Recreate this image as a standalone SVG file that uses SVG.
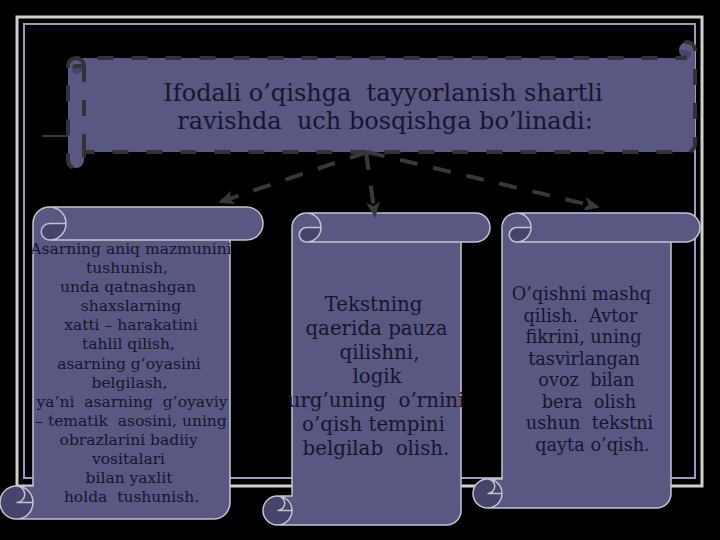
<svg xmlns="http://www.w3.org/2000/svg" width="720" height="540" viewBox="0 0 720 540">
<defs>
<style>
.bg{fill:#000}
.fill{fill:#585882}
.dark{fill:#45456c}
.edge{fill:none;stroke:#c4c4d0;stroke-width:1.5}
.dedge{fill:none;stroke:#333333;stroke-width:4;stroke-dasharray:16 18}
.t{font-family:"DejaVu Serif","Liberation Serif",serif;fill:#161630;text-anchor:middle;white-space:pre}
.conn{fill:none;stroke:#383838;stroke-width:4;stroke-dasharray:18 16}
</style>
<marker id="arr" markerUnits="userSpaceOnUse" markerWidth="16" markerHeight="14" viewBox="0 0 16 14" refX="14" refY="7" orient="auto">
<path d="M0,0 L16,7 L0,14 L4,7 Z" fill="#383838"/>
</marker>
</defs>
<rect class="bg" x="0" y="0" width="720" height="540"/>
<g id="frame">
<rect x="17" y="17" width="685" height="469" fill="none" stroke="#cfcfcf" stroke-width="3"/>
<rect x="24" y="24" width="671" height="454" fill="none" stroke="#9a9ac0" stroke-width="2"/>
<line x1="42" y1="136" x2="68" y2="136" stroke="#4a4a4a" stroke-width="1.5"/>
</g>
<g id="title">
<path class="fill" d="M68,66 A8,8 0 0 1 76,58 L687,58 A8,8 0 1 1 695,50 L695,144 A8,8 0 0 1 687,152 L84,152 L84,160 A8,8 0 0 1 68,160 Z"/>
<path class="dark" d="M76,74 A4,4 0 0 1 76,66 L84,66 A8,8 0 0 1 76,74 Z"/>
<path class="dark" d="M687,58 A4,4 0 0 0 687,50 L679,50 A8,8 0 0 0 687,58 Z"/>
<path class="dedge" d="M68,66 A8,8 0 0 1 76,58 L687,58 A8,8 0 1 1 695,50 L695,144 A8,8 0 0 1 687,152 L84,152 L84,160 A8,8 0 0 1 68,160 Z"/>
<path class="dedge" d="M76,58 A8,8 0 0 1 76,74 A4,4 0 0 1 76,66 L84,66 M84,66 L84,152"/>
<text class="t" x="383" y="101" font-size="24" xml:space="preserve">Ifodali o’qishga  tayyorlanish shartli</text>
<text class="t" x="385" y="129" font-size="24" xml:space="preserve">ravishda  uch bosqishga bo’linadi:</text>
</g>
<g id="step1">
<path class="fill" d="M33,486 L33,223.5 A16.5,16.5 0 0 1 49.5,207 L246.5,207 A16.5,16.5 0 0 1 246.5,240 L230,240 L230,502.5 A16.5,16.5 0 0 1 213.5,519 L16.5,519 A16.5,16.5 0 0 1 16.5,486 Z"/>
<path class="dark" d="M49.5,240 A8.25,8.25 0 0 1 49.5,223.5 L66,223.5 A16.5,16.5 0 0 1 49.5,240 Z"/>
<circle class="dark" cx="16.5" cy="502.5" r="16.5"/>
<path class="edge" d="M33,486 L33,223.5 A16.5,16.5 0 0 1 49.5,207 L246.5,207 A16.5,16.5 0 0 1 246.5,240 L230,240 L230,502.5 A16.5,16.5 0 0 1 213.5,519 L16.5,519 A16.5,16.5 0 0 1 16.5,486 Z M49.5,207 A16.5,16.5 0 0 1 49.5,240 A8.25,8.25 0 0 1 49.5,223.5 L66,223.5 M230,240 L49.5,240 M16.5,486 A8.25,8.25 0 0 1 16.5,502.5 L33,502.5 M16.5,519 A16.5,16.5 0 0 0 16.5,486"/>
<text class="t" font-size="15.5" xml:space="preserve" x="131" y="254">Asarning aniq mazmunini</text>
<text class="t" font-size="15.5" xml:space="preserve" x="127" y="273">tushunish,</text>
<text class="t" font-size="15.5" xml:space="preserve" x="128" y="292">unda qatnashgan</text>
<text class="t" font-size="15.5" xml:space="preserve" x="131" y="311">shaxslarning</text>
<text class="t" font-size="15.5" xml:space="preserve" x="131" y="330">xatti – harakatini</text>
<text class="t" font-size="15.5" xml:space="preserve" x="128.5" y="349">tahlil qilish,</text>
<text class="t" font-size="15.5" xml:space="preserve" x="129" y="369">asarning g’oyasini</text>
<text class="t" font-size="15.5" xml:space="preserve" x="129.5" y="388">belgilash,</text>
<text class="t" font-size="15.5" xml:space="preserve" x="132" y="407">ya’ni  asarning  g’oyaviy</text>
<text class="t" font-size="15.5" xml:space="preserve" x="131" y="426">– tematik  asosini, uning</text>
<text class="t" font-size="15.5" xml:space="preserve" x="128.7" y="445">obrazlarini badiiy</text>
<text class="t" font-size="15.5" xml:space="preserve" x="128.5" y="464">vositalari</text>
<text class="t" font-size="15.5" xml:space="preserve" x="129" y="483">bilan yaxlit</text>
<text class="t" font-size="15.5" xml:space="preserve" x="131.5" y="502">holda  tushunish.</text>
</g>
<g id="step2">
<path class="fill" d="M292,496 L292,227.5 A14.5,14.5 0 0 1 306.5,213 L475.5,213 A14.5,14.5 0 0 1 475.5,242 L461,242 L461,510.5 A14.5,14.5 0 0 1 446.5,525 L277.5,525 A14.5,14.5 0 0 1 277.5,496 Z"/>
<path class="dark" d="M306.5,242 A7.25,7.25 0 0 1 306.5,227.5 L321,227.5 A14.5,14.5 0 0 1 306.5,242 Z"/>
<circle class="dark" cx="277.5" cy="510.5" r="14.5"/>
<path class="edge" d="M292,496 L292,227.5 A14.5,14.5 0 0 1 306.5,213 L475.5,213 A14.5,14.5 0 0 1 475.5,242 L461,242 L461,510.5 A14.5,14.5 0 0 1 446.5,525 L277.5,525 A14.5,14.5 0 0 1 277.5,496 Z M306.5,213 A14.5,14.5 0 0 1 306.5,242 A7.25,7.25 0 0 1 306.5,227.5 L321,227.5 M461,242 L306.5,242 M277.5,496 A7.25,7.25 0 0 1 277.5,510.5 L292,510.5 M277.5,525 A14.5,14.5 0 0 0 277.5,496"/>
<text class="t" font-size="19.8" xml:space="preserve" x="373.5" y="311">Tekstning</text>
<text class="t" font-size="19.8" xml:space="preserve" x="376.5" y="335">qaerida pauza</text>
<text class="t" font-size="19.8" xml:space="preserve" x="379.5" y="359">qilishni,</text>
<text class="t" font-size="19.8" xml:space="preserve" x="377" y="383">logik</text>
<text class="t" font-size="19.8" xml:space="preserve" x="376" y="407">urg’uning  o’rnini</text>
<text class="t" font-size="19.8" xml:space="preserve" x="373.5" y="431">o’qish tempini</text>
<text class="t" font-size="19.8" xml:space="preserve" x="376" y="455">belgilab  olish.</text>
</g>
<g id="step3">
<path class="fill" d="M502,479 L502,227.5 A14.5,14.5 0 0 1 516.5,213 L685.5,213 A14.5,14.5 0 0 1 685.5,242 L671,242 L671,493.5 A14.5,14.5 0 0 1 656.5,508 L487.5,508 A14.5,14.5 0 0 1 487.5,479 Z"/>
<path class="dark" d="M516.5,242 A7.25,7.25 0 0 1 516.5,227.5 L531,227.5 A14.5,14.5 0 0 1 516.5,242 Z"/>
<circle class="dark" cx="487.5" cy="493.5" r="14.5"/>
<path class="edge" d="M502,479 L502,227.5 A14.5,14.5 0 0 1 516.5,213 L685.5,213 A14.5,14.5 0 0 1 685.5,242 L671,242 L671,493.5 A14.5,14.5 0 0 1 656.5,508 L487.5,508 A14.5,14.5 0 0 1 487.5,479 Z M516.5,213 A14.5,14.5 0 0 1 516.5,242 A7.25,7.25 0 0 1 516.5,227.5 L531,227.5 M671,242 L516.5,242 M487.5,479 A7.25,7.25 0 0 1 487.5,493.5 L502,493.5 M487.5,508 A14.5,14.5 0 0 0 487.5,479"/>
<text class="t" font-size="17.7" xml:space="preserve" x="581.5" y="300">O’qishni mashq</text>
<text class="t" font-size="17.7" xml:space="preserve" x="580.5" y="322">qilish.  Avtor</text>
<text class="t" font-size="17.7" xml:space="preserve" x="583.5" y="343">fikrini, uning</text>
<text class="t" font-size="17.7" xml:space="preserve" x="584" y="365">tasvirlangan</text>
<text class="t" font-size="17.7" xml:space="preserve" x="586.5" y="386">ovoz  bilan</text>
<text class="t" font-size="17.7" xml:space="preserve" x="589" y="408">bera  olish</text>
<text class="t" font-size="17.7" xml:space="preserve" x="589.5" y="429">ushun  tekstni</text>
<text class="t" font-size="17.7" xml:space="preserve" x="592.5" y="451">qayta o’qish.</text>
</g>
<g id="connectors">
<path class="conn" d="M367,152 L220,202" marker-end="url(#arr)"/>
<path class="conn" d="M366,152 L375,216" marker-end="url(#arr)"/>
<path class="conn" d="M367,152 L598,207" marker-end="url(#arr)"/>
</g>
</svg>
